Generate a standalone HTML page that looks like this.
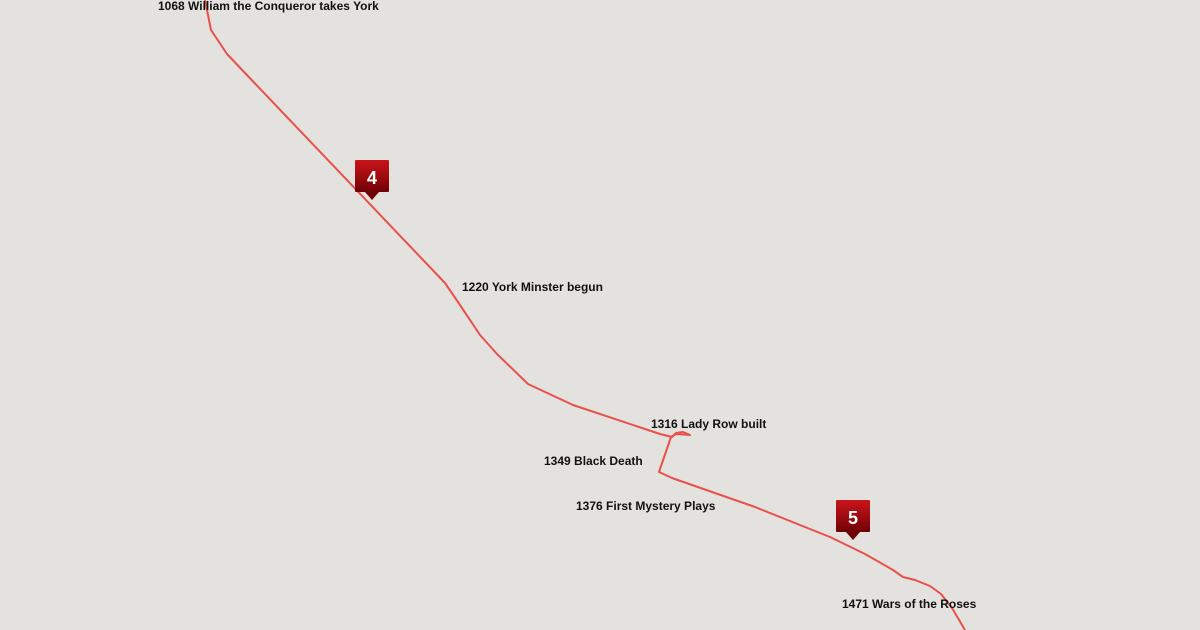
<!DOCTYPE html>
<html><head><style>
html,body{margin:0;padding:0;background:#e4e2de;width:1200px;height:630px;overflow:hidden}
svg{display:block}
text{font-family:"Liberation Sans",sans-serif;font-weight:bold;font-size:12px;fill:#111}
</style></head><body>
<svg width="1200" height="630" viewBox="0 0 1200 630">
<defs>
<linearGradient id="g" x1="0" y1="0" x2="0" y2="1">
<stop offset="0" stop-color="#c8151a"/><stop offset="0.5" stop-color="#a00b10"/><stop offset="1" stop-color="#6e0206"/>
</linearGradient>
</defs>
<polyline fill="none" stroke="#e8504c" stroke-width="2" stroke-linejoin="round" points="205,0 211,30 227,54 245,73 445,283 460,305 480,335 497,354 528,384 573,405 660,434 672,437 676,433 683,432 690,435 676,434 671,437 659,472 672,478 755,507 830,537 865,554 893,570 903,577 915,580 930,586 941,594 952,608 965,630"/>
<g>
<rect x="355" y="160" width="34" height="32" rx="1" fill="url(#g)"/>
<polygon points="365,192 379,192 372,200" fill="#6e0206"/>
<text x="372" y="184" text-anchor="middle" style="font-size:18px;fill:#fff">4</text>
</g>
<g>
<rect x="836" y="500" width="34" height="32" rx="1" fill="url(#g)"/>
<polygon points="846,532 860,532 853,540" fill="#6e0206"/>
<text x="853" y="524" text-anchor="middle" style="font-size:18px;fill:#fff">5</text>
</g>
<text x="158" y="10">1068 William the Conqueror takes York</text>
<text x="462" y="291">1220 York Minster begun</text>
<text x="651" y="428">1316 Lady Row built</text>
<text x="544" y="465">1349 Black Death</text>
<text x="576" y="510">1376 First Mystery Plays</text>
<text x="842" y="608">1471 Wars of the Roses</text>
</svg>
</body></html>
